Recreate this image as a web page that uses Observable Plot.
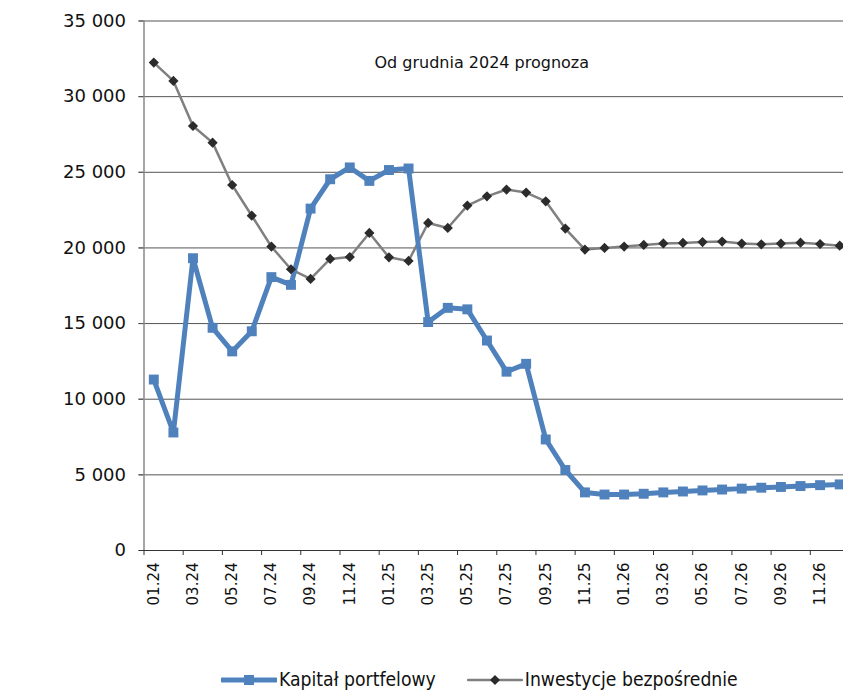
<!DOCTYPE html>
<html>
<head>
<meta charset="utf-8">
<script src="https://cdn.jsdelivr.net/npm/d3@7"></script>
<script src="https://cdn.jsdelivr.net/npm/@observablehq/plot@0.6"></script>
<style>
  html, body { margin: 0; padding: 0; background: #fff; overflow: hidden; }
  #wrap { position: relative; width: 843px; height: 690px; overflow: hidden; }
  #chart svg { max-width: none !important; }
  #legend { position: absolute; left: 221px; top: 668px; display: flex; align-items: center;
            font-family: "DejaVu Sans Condensed", "DejaVu Sans", sans-serif; font-size: 19.2px; color: #111; white-space: nowrap; }
  #legend .item { display: flex; align-items: center; }
  #legend svg { display: block; margin-right: 2px; }
</style>
</head>
<body>
<div id="wrap"><div id="chart"></div><div id="legend"></div></div>
<script>
const months = ["01.24","02.24","03.24","04.24","05.24","06.24","07.24","08.24","09.24","10.24","11.24","12.24",
                "01.25","02.25","03.25","04.25","05.25","06.25","07.25","08.25","09.25","10.25","11.25","12.25",
                "01.26","02.26","03.26","04.26","05.26","06.26","07.26","08.26","09.26","10.26","11.26","12.26"];
const portfolio = [11300, 7800, 19320, 14720, 13160, 14490, 18070, 17560, 22600, 24540, 25320, 24430,
                   25150, 25250, 15100, 16040, 15940, 13880, 11820, 12340, 7340, 5320, 3840, 3700,
                   3700, 3750, 3840, 3900, 3970, 4030, 4090, 4150, 4200, 4260, 4320, 4370];
const direct = [32250, 31040, 28060, 26960, 24160, 22130, 20090, 18590, 17950, 19270, 19400, 20990,
                19380, 19140, 21650, 21320, 22800, 23410, 23860, 23660, 23080, 21280, 19890, 20000,
                20090, 20200, 20300, 20330, 20390, 20420, 20290, 20240, 20290, 20350, 20260, 20150];
const yTicks = [0, 5000, 10000, 15000, 20000, 25000, 30000, 35000];
const xTickLabels = months.filter((d, i) => i % 2 === 0);
const seriesNames = ["Kapitał portfelowy", "Inwestycje bezpośrednie"];
const note = "Od grudnia 2024 prognoza";

const blue = "#4F81BD";
const grayLine = "#808080";
const dark = "#2b2b2b";

const rowsP = months.map((m, i) => ({month: m, value: portfolio[i]}));
const rowsD = months.map((m, i) => ({month: m, value: direct[i]}));
const fmt = d => d3.format(",")(d).replace(/,/g, " ");

const W = 850, H = 650;
const mL = 143.5, mR = 1, mT = 20.5, mB = 100;
const bw = (W - mL - mR) / months.length;

const chart = Plot.plot({
  width: W, height: H,
  marginLeft: mL, marginRight: mR, marginTop: mT, marginBottom: mB,
  style: {fontFamily: "DejaVu Sans, Verdana, sans-serif", color: "#111", background: "#fff", overflow: "visible", maxWidth: "none"},
  x: {type: "band", domain: months, padding: 0, round: false},
  y: {domain: [0, 35000]},
  marks: [
    Plot.ruleY(yTicks.filter(d => d > 0), {stroke: "#555", strokeWidth: 1, insetLeft: -5}),
    Plot.axisY({ticks: yTicks, tickSize: 5, tickPadding: 13, tickFormat: fmt, fontSize: 18, stroke: "#555", label: null}),
    Plot.axisX({ticks: xTickLabels, tickSize: 0, tickPadding: 12, tickRotate: -90, fontSize: 15, label: null}),
    Plot.ruleX(xTickLabels, {x: d => d, y1: 0, y2: 0, insetBottom: -5, dx: -bw / 2, stroke: "#333", strokeWidth: 1}),
    Plot.ruleX([months[0]], {dx: -bw / 2, stroke: "#888", strokeWidth: 1.5}),
    Plot.ruleY([0], {stroke: "#333", strokeWidth: 1.2, insetLeft: -5}),
    Plot.text([note], {frameAnchor: "top", dx: -15, dy: 36, fontSize: 16, fill: "#111"}),
    Plot.line(rowsD, {x: "month", y: "value", stroke: grayLine, strokeWidth: 2.5}),
    Plot.line(rowsP, {x: "month", y: "value", stroke: blue, strokeWidth: 5, strokeLinejoin: "miter"}),
    Plot.dot(rowsP, {x: "month", y: "value", symbol: "square", r: 5.6, fill: blue, stroke: "none"}),
    Plot.dot(rowsD, {x: "month", y: "value", symbol: "diamond2", r: 4.6, fill: dark, stroke: "none"})
  ]
});
document.getElementById("chart").appendChild(chart);

// Legend
const legend = document.getElementById("legend");
function item(name, color, lw, sym, gap) {
  const div = document.createElement("div");
  div.className = "item";
  div.style.marginRight = gap + "px";
  const s = d3.create("svg").attr("width", 56).attr("height", 16);
  s.append("line").attr("x1", 1).attr("x2", 55).attr("y1", 8).attr("y2", 8)
    .attr("stroke", color).attr("stroke-width", lw).attr("stroke-linecap", "round");
  if (sym === "square") s.append("rect").attr("x", 23).attr("y", 3).attr("width", 10).attr("height", 10).attr("fill", blue);
  else s.append("path").attr("d", d3.symbol(d3.symbolDiamond2, 64)()).attr("transform", "translate(28,8)").attr("fill", dark);
  div.appendChild(s.node());
  const t = document.createElement("span");
  t.textContent = name;
  div.appendChild(t);
  legend.appendChild(div);
}
item(seriesNames[0], blue, 5, "square", 31);
item(seriesNames[1], grayLine, 2.5, "diamond", 0);
</script>
</body>
</html>
